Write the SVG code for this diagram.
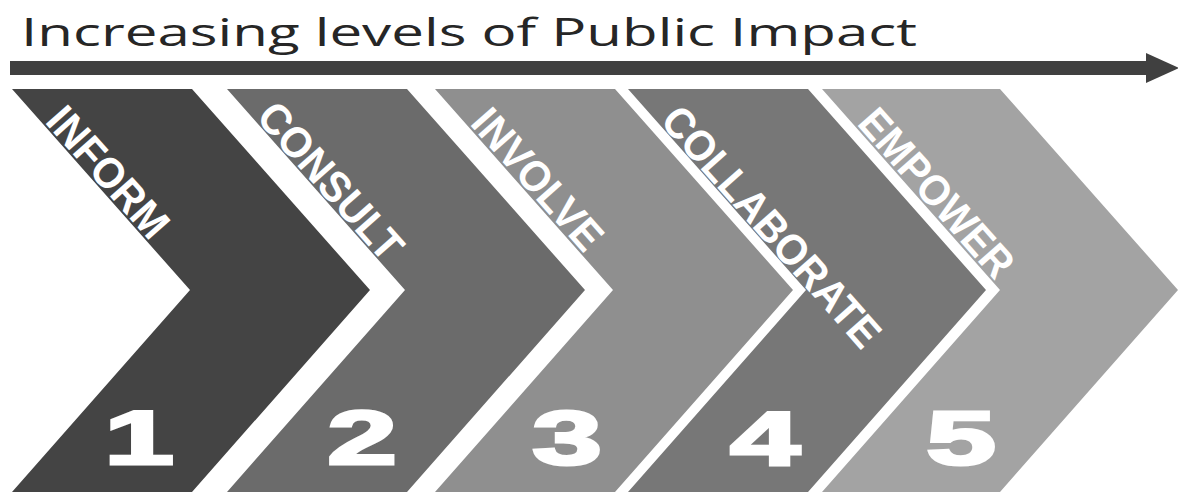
<svg xmlns="http://www.w3.org/2000/svg" width="1178" height="492" viewBox="0 0 1178 492">
  <style>
    .title { font-family: "Open Sans", "Liberation Sans", sans-serif; font-size: 39px; fill: #262626; }
    .label { font-family: "Liberation Sans", Arial, sans-serif; font-size: 43px; font-weight: bold; fill: #ffffff; }
    .num { font-family: "Liberation Sans", Arial, sans-serif; font-size: 76px; font-weight: bold; fill: #ffffff; stroke: #ffffff; stroke-width: 3; text-anchor: middle; }
    .axis { stroke: #404040; stroke-width: 14; fill: none; }
  </style>
  <defs>
    <marker id="head" markerUnits="userSpaceOnUse" markerWidth="34" markerHeight="30" refX="0" refY="15" orient="auto">
      <path d="M0,0 L33,15 L0,30 Z" fill="#404040"/>
    </marker>
  </defs>
  <rect x="0" y="0" width="1178" height="492" fill="#ffffff"/>
  <text class="title" x="21" y="46" textLength="896" lengthAdjust="spacingAndGlyphs">Increasing levels of Public Impact</text>
  <g id="connectors">
    <line class="axis" x1="10" y1="68" x2="1146" y2="68" marker-end="url(#head)"/>
  </g>
  <g id="inform">
    <polygon points="12,89 192,89 370,290 192,492 12,492 190,290" fill="#444444"/>
    <text class="label" transform="translate(44,122) rotate(48.47)" textLength="160" lengthAdjust="spacingAndGlyphs">INFORM</text>
    <text class="num" transform="translate(139,464) scale(1.65,1)">1</text>
  </g>
  <g id="consult">
    <polygon points="227,89 407,89 585,290 407,492 227,492 405,290" fill="#6b6b6b"/>
    <text class="label" transform="translate(255,118) rotate(48.47)" textLength="195" lengthAdjust="spacingAndGlyphs">CONSULT</text>
    <text class="num" transform="translate(362,464) scale(1.65,1)">2</text>
  </g>
  <g id="involve">
    <polygon points="435,89 615,89 793,290 615,492 435,492 613,290" fill="#8f8f8f"/>
    <text class="label" transform="translate(469,124) rotate(48.47)" textLength="174" lengthAdjust="spacingAndGlyphs">INVOLVE</text>
    <text class="num" transform="translate(567,464) scale(1.65,1)">3</text>
  </g>
  <g id="collaborate">
    <polygon points="628,89 808,89 986,290 808,492 628,492 806,290" fill="#777777"/>
    <text class="label" transform="translate(659,122) rotate(48.47)" textLength="306" lengthAdjust="spacingAndGlyphs">COLLABORATE</text>
    <text class="num" transform="translate(765,465) scale(1.65,1)">4</text>
  </g>
  <g id="empower">
    <polygon points="822,89 1000,89 1178,290 1000,492 822,492 1000,290" fill="#a3a3a3"/>
    <text class="label" transform="translate(856,124) rotate(48.47)" textLength="210" lengthAdjust="spacingAndGlyphs">EMPOWER</text>
    <text class="num" transform="translate(961,464) scale(1.65,1)">5</text>
  </g>
</svg>
